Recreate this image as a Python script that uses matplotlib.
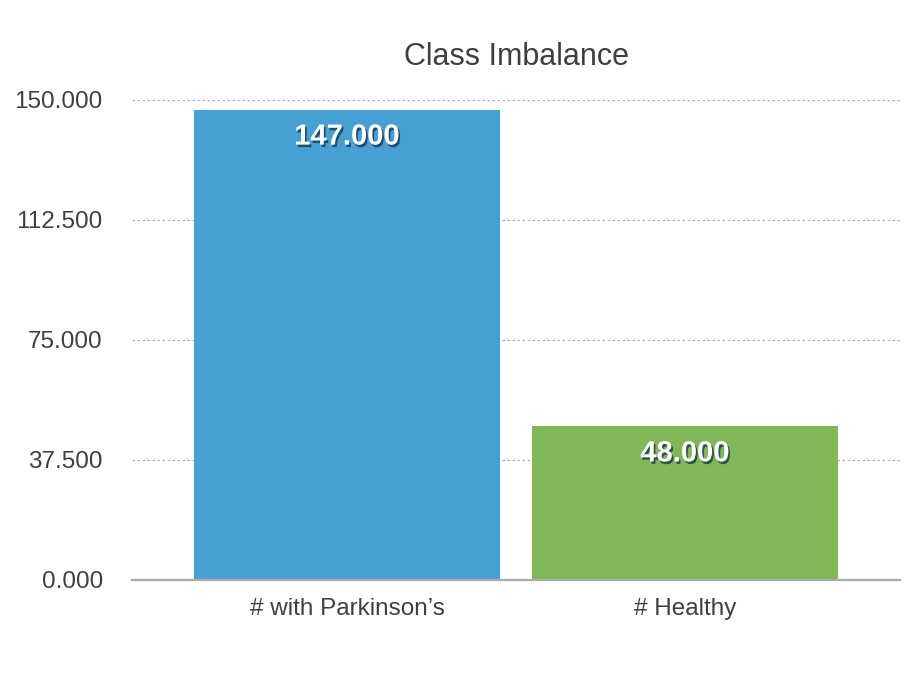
import matplotlib
matplotlib.use("Agg")
import matplotlib.pyplot as plt
import matplotlib.patheffects as pe

categories = ["# with Parkinson\u2019s", "# Healthy"]
values = [147, 48]
bar_colors = ["#46A0D4", "#80B757"]
yticks = [0, 37.5, 75, 112.5, 150]
ytick_labels = ["0.000", "37.500", "75.000", "112.500", "150.000"]
value_labels = ["147.000", "48.000"]
title = "Class Imbalance"

plt.rcParams['font.family'] = ['Liberation Sans', 'DejaVu Sans']
text_color = "#3f3f3f"

fig = plt.figure(figsize=(9.24, 6.74), dpi=100)
ax = fig.add_axes([132/924, 1 - 580/674, 768/924, 480/674])

x = list(range(len(categories)))
bars = ax.bar(x, values, width=0.908, color=bar_colors, zorder=2)

ax.set_xlim(-0.636, 1.636)
ax.set_ylim(0, 150)
ax.set_yticks(yticks)
ax.set_yticklabels(ytick_labels)
ax.set_xticks(x)
ax.set_xticklabels(categories)
ax.tick_params(axis='y', length=0, pad=21, labelsize=17.5, labelcolor=text_color)
ax.tick_params(axis='x', length=0, pad=13, labelsize=17.5, labelcolor=text_color)

for s in ["left", "right", "top"]:
    ax.spines[s].set_visible(False)
ax.spines["bottom"].set_color("#aaaaaa")
ax.spines["bottom"].set_linewidth(1.6)
ax.spines["bottom"].set_zorder(3)

for yv in yticks[1:]:
    ax.axhline(yv, color="#b0b0b0", linestyle=(0, (2, 2)), linewidth=0.9, zorder=1)

for xi, v, lab in zip(x, values, value_labels):
    ax.annotate(lab, xy=(xi, v), xytext=(0, -27), textcoords="offset pixels",
                ha="center", va="center", fontsize=21, color="white",
                fontweight="bold", zorder=4,
                path_effects=[pe.SimplePatchShadow(offset=(1.2, -1.8), shadow_rgbFace="#0a2a40", alpha=0.7),
                              pe.Normal()])

fig.text(516/924, 1 - 57/674, title, ha="center", va="center", fontsize=22, color=text_color)

fig.savefig("out.png", dpi=100, facecolor="white")
